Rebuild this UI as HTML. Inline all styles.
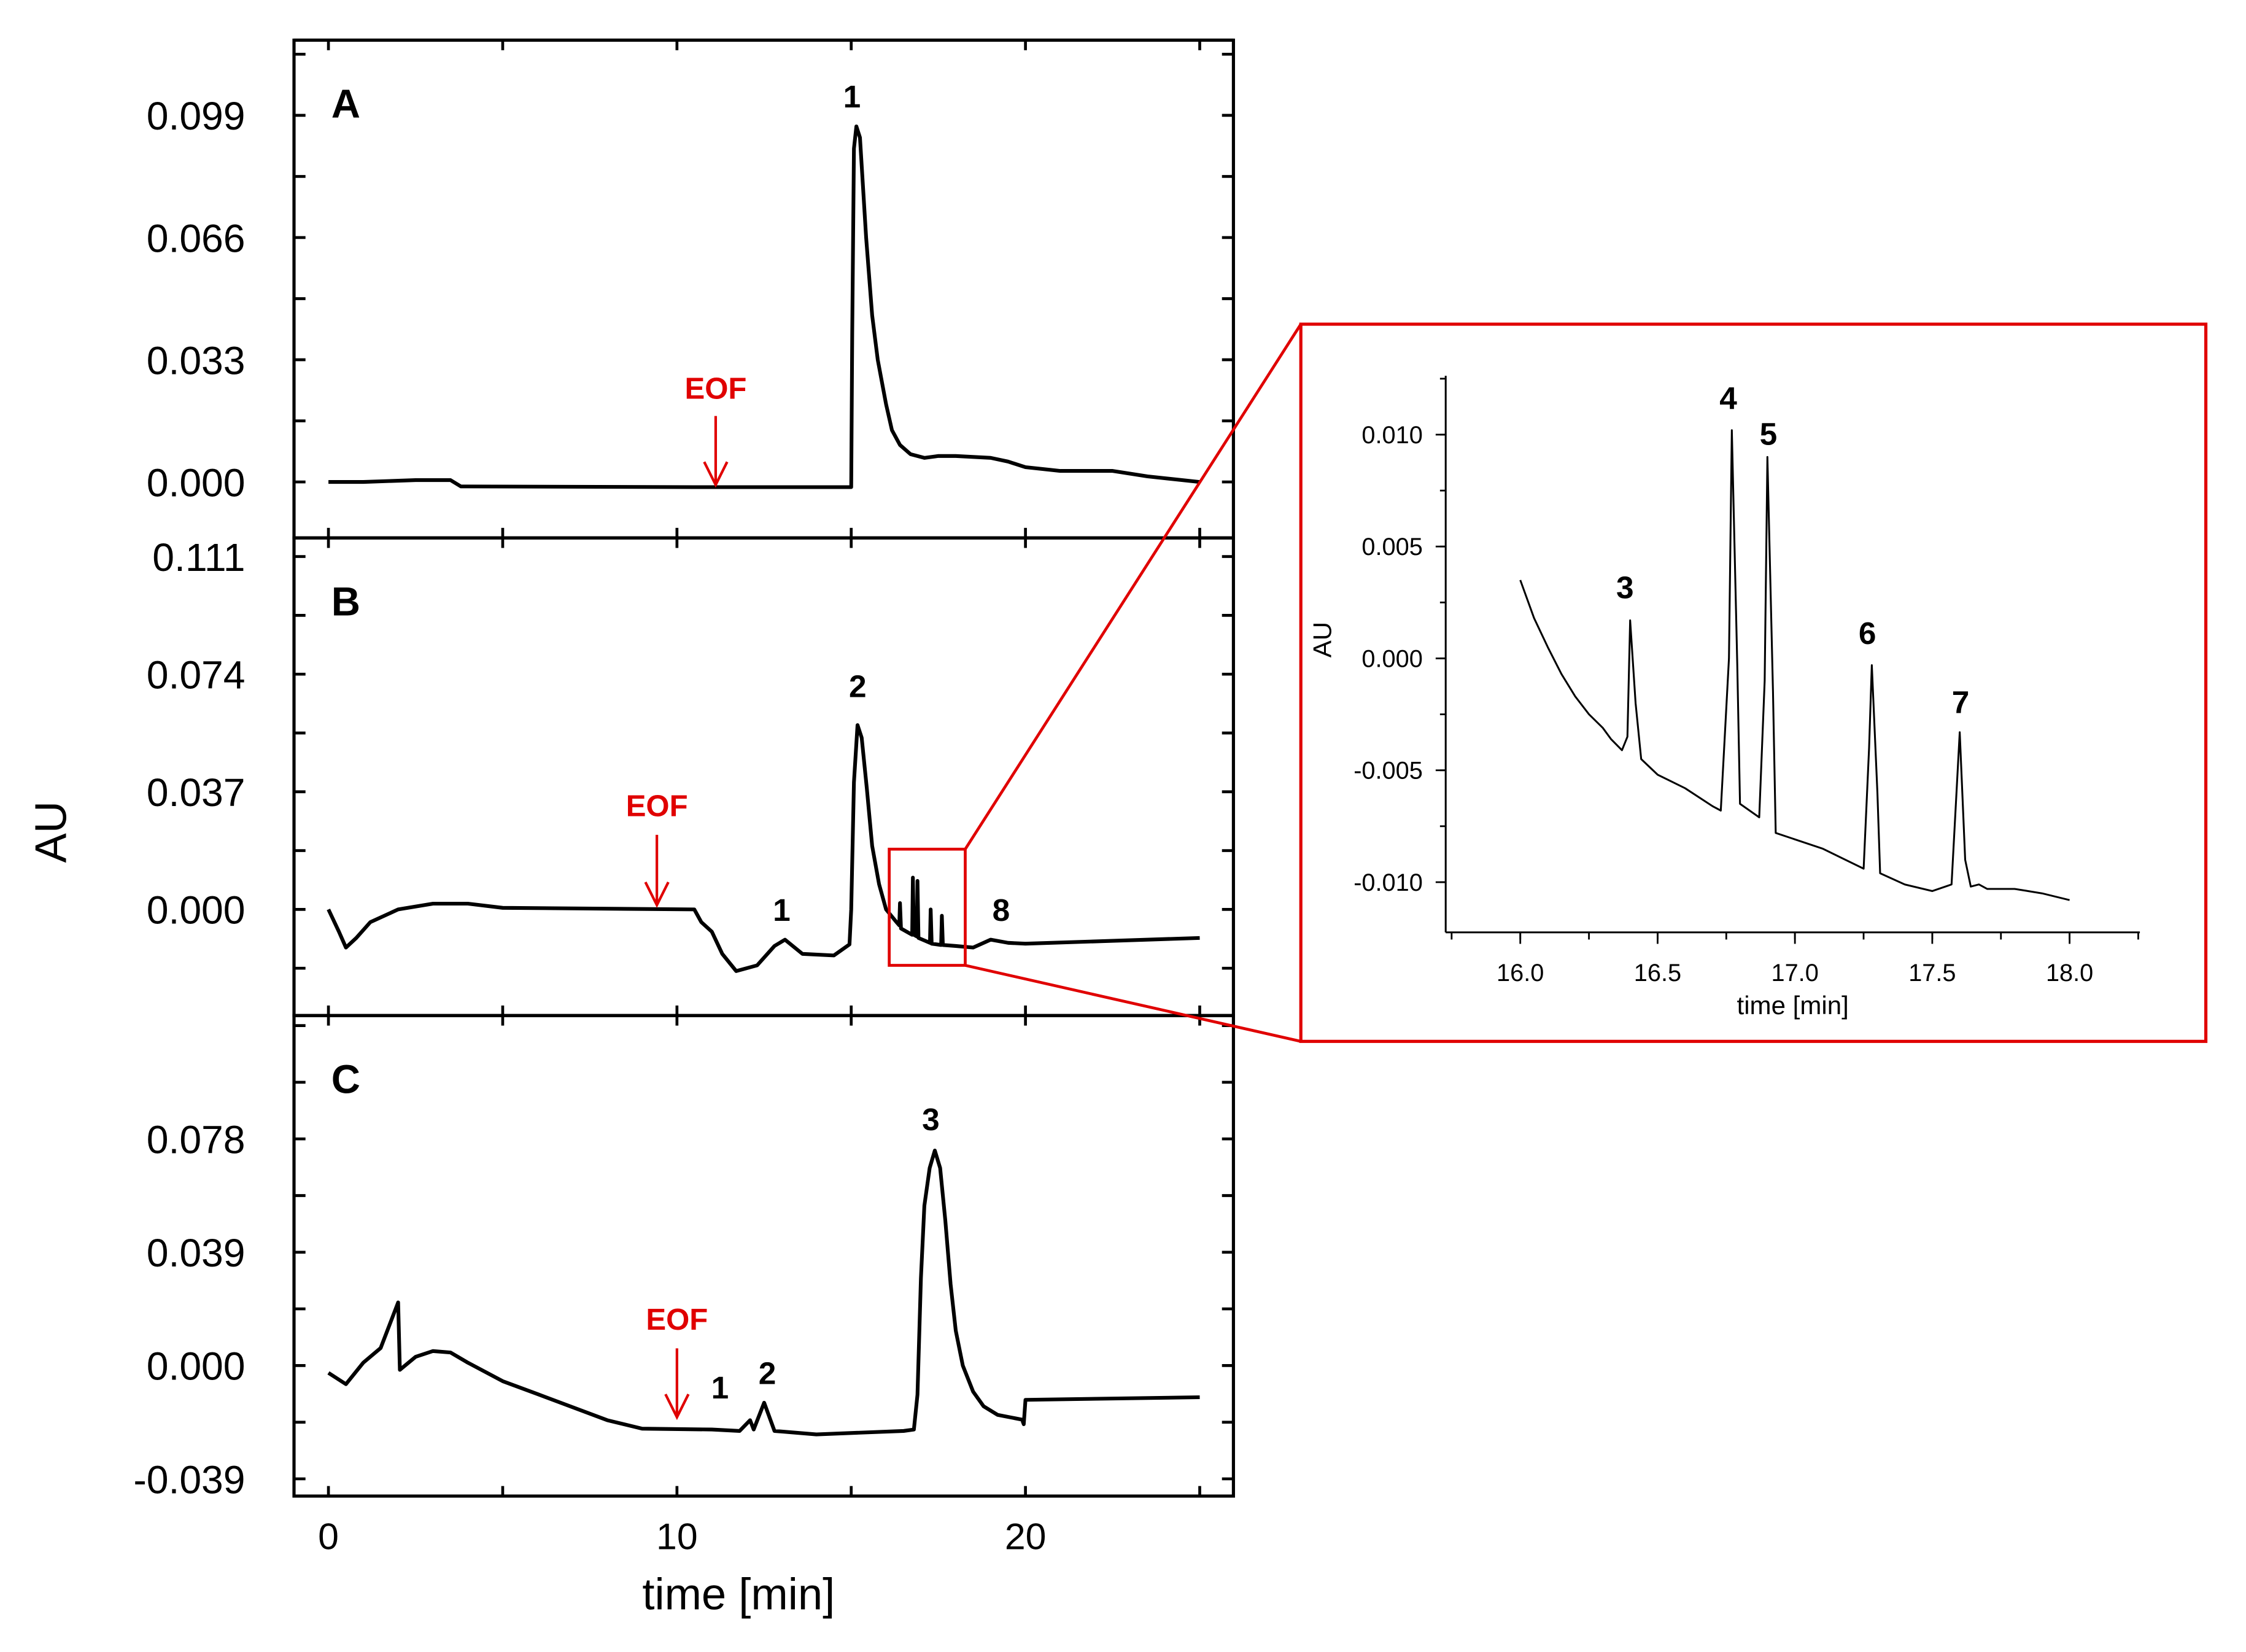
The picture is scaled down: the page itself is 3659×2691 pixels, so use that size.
<!DOCTYPE html>
<html><head><meta charset="utf-8"><style>
html,body{margin:0;padding:0;background:#fff;}
svg{display:block;font-family:"Liberation Sans",Arial,sans-serif;}
</style></head><body>
<svg id="fig" width="3659" height="2691" viewBox="0 0 1566 1151.7" xmlns="http://www.w3.org/2000/svg">
<rect x="0" y="0" width="1566" height="1152" fill="#fff"/>
<g id="main"></g>
<g id="inset"></g>
</svg>
<script>
// ---------- data ----------
const xTicksMain = [0, 10, 20];
const xMinorMain = [0, 5, 10, 15, 20, 25];
const ticksA = [0.000, 0.033, 0.066, 0.099];
const ticksB = [0.000, 0.037, 0.074, 0.111];
const ticksC = [-0.039, 0.000, 0.039, 0.078];
const labelsA = ["0.000", "0.033", "0.066", "0.099"];
const labelsB = ["0.000", "0.037", "0.074", "0.111"];
const labelsC = ["-0.039", "0.000", "0.039", "0.078"];
const timeA = [0,1,2.5,3.5,3.8,10.5,15.0,15.03,15.08,15.15,15.25,15.43,15.6,15.76,16.0,16.17,16.4,16.7,17.1,17.5,18.0,19.0,19.5,20.0,21.0,22.5,23.5,25.0];
const valA  = [0,0,0.0005,0.0005,-0.0012,-0.0014,-0.0014,0.04,0.09,0.096,0.093,0.066,0.045,0.033,0.021,0.014,0.010,0.0075,0.0065,0.007,0.007,0.0065,0.0055,0.004,0.003,0.003,0.0015,0.0];
const timeB = [0,0.3,0.5,0.8,1.2,2,3,4,5,10.5,10.7,11,11.3,11.7,12.3,12.8,13.1,13.6,14.5,14.95,15.0,15.08,15.18,15.3,15.45,15.6,15.8,16.0,16.3,16.38,16.4,16.43,16.75,16.77,16.8,16.88,16.9,16.93,17.26,17.28,17.31,17.58,17.6,17.63,18.0,18.5,19.0,19.5,20.0,25.0];
const valB  = [0,-0.007,-0.012,-0.009,-0.004,0,0.0018,0.0018,0.0005,0,-0.004,-0.007,-0.014,-0.0194,-0.0176,-0.0115,-0.0095,-0.014,-0.0145,-0.011,0.0,0.04,0.058,0.054,0.038,0.02,0.008,0.0,-0.004,-0.005,0.002,-0.006,-0.008,0.010,-0.008,-0.0085,0.009,-0.009,-0.0105,0.000,-0.0108,-0.0112,-0.002,-0.0112,-0.0115,-0.012,-0.0095,-0.0105,-0.0108,-0.009];
const timeC = [0,0.5,1,1.5,2,2.05,2.5,3,3.5,4,5,6,8,9,11,11.8,12.1,12.2,12.5,12.8,14,16.5,16.8,16.9,17.0,17.1,17.25,17.4,17.55,17.7,17.85,18.0,18.2,18.5,18.8,19.2,19.9,19.95,20.0,25.0];
const valC  = [-0.0025,-0.0064,0.001,0.006,0.0217,-0.0015,0.003,0.005,0.0045,0.001,-0.0054,-0.0098,-0.0188,-0.0217,-0.022,-0.0225,-0.0188,-0.022,-0.0128,-0.0225,-0.0237,-0.0225,-0.022,-0.01,0.03,0.055,0.068,0.074,0.068,0.05,0.028,0.012,0.0,-0.009,-0.014,-0.017,-0.0186,-0.0202,-0.0118,-0.0109];
const insetXTicks = [16.0, 16.5, 17.0, 17.5, 18.0];
const insetXLabels = ["16.0","16.5","17.0","17.5","18.0"];
const insetYTicks = [-0.010, -0.005, 0.000, 0.005, 0.010];
const insetYLabels = ["-0.010","-0.005","0.000","0.005","0.010"];
const insetTime = [16.0,16.05,16.1,16.15,16.2,16.25,16.3,16.33,16.37,16.39,16.4,16.42,16.44,16.5,16.6,16.7,16.73,16.76,16.77,16.79,16.8,16.87,16.89,16.9,16.92,16.93,17.1,17.25,17.27,17.28,17.3,17.31,17.4,17.5,17.57,17.6,17.62,17.64,17.67,17.7,17.8,17.9,18.0];
const insetVal  = [0.0035,0.0018,0.0005,-0.0007,-0.0017,-0.0025,-0.0031,-0.0036,-0.0041,-0.0035,0.0017,-0.002,-0.0045,-0.0052,-0.0058,-0.0066,-0.0068,0.0,0.0102,-0.0003,-0.0065,-0.0071,-0.001,0.009,-0.0015,-0.0078,-0.0085,-0.0094,-0.004,-0.0003,-0.006,-0.0096,-0.0101,-0.0104,-0.0101,-0.0033,-0.009,-0.0102,-0.0101,-0.0103,-0.0103,-0.0105,-0.0108];

// ---------- helpers ----------
const NS = "http://www.w3.org/2000/svg";
function mk(parent, tag, attrs, text){
  const e = document.createElementNS(NS, tag);
  for (const k in attrs) e.setAttribute(k, attrs[k]);
  if (text !== undefined) e.textContent = text;
  parent.appendChild(e);
  return e;
}
const main = document.getElementById('main');
const inset = document.getElementById('inset');
const L = 205, R = 860;
const xMain = t => 229 + t * 24.3;
const panels = [
  {id:'a', top:28, bot:375, y0:336, per:0.033, px:85.2, ticks:ticksA, labels:labelsA, t:timeA, v:valA, letter:'A'},
  {id:'b', top:375, bot:708, y0:634, per:0.037, px:82, ticks:ticksB, labels:labelsB, t:timeB, v:valB, letter:'B'},
  {id:'c', top:708, bot:1043, y0:952, per:0.039, px:79, ticks:ticksC, labels:labelsC, t:timeC, v:valC, letter:'C'}
];
panels.forEach(p => {
  const yf = v => p.y0 - v / p.per * p.px;
  const g = mk(main, 'g', {});
  
  
  const fr = mk(g, 'rect', {x:L, y:p.top, width:R-L, height:p.bot-p.top, fill:'none', stroke:'#000', 'stroke-width':2.2});
  
  
  const step = p.per / 2;
  for (let v = p.ticks[0] - step; v <= p.ticks[p.ticks.length-1] + step*2 + 1e-9; v += step) {
    const y = yf(v);
    if (y <= p.top + 3 || y >= p.bot - 3) continue;
    mk(g, 'line', {x1:L, x2:L+8, y1:y, y2:y, stroke:'#000', 'stroke-width':2});
    mk(g, 'line', {x1:R-8, x2:R, y1:y, y2:y, stroke:'#000', 'stroke-width':2});
  }
  p.ticks.forEach((v, i) => {
    const t = mk(g, 'text', {x:171, y:yf(v) + 10, 'text-anchor':'end', 'font-size':27.5}, p.labels[i]);
    
    
  });
  xMinorMain.forEach(tm => {
    const x = xMain(tm);
    mk(g, 'line', {x1:x, x2:x, y1:p.top, y2:p.top+7, stroke:'#000', 'stroke-width':2});
    mk(g, 'line', {x1:x, x2:x, y1:p.bot-7, y2:p.bot, stroke:'#000', 'stroke-width':2});
  });
  const d = p.t.map((tm, i) => (i ? 'L' : 'M') + xMain(tm).toFixed(1) + ',' + yf(p.v[i]).toFixed(1)).join(' ');
  const path = mk(g, 'path', {d:d, fill:'none', stroke:'#000', 'stroke-width':2.6, 'stroke-linejoin':'round'});
  
  
  const lt = mk(g, 'text', {x:231, y:p.top + 54, 'font-size':28, 'font-weight':'bold'}, p.letter);
  
  
});
mk(main, 'line', {x1:L, x2:R, y1:28, y2:28, stroke:'#000', 'stroke-width':2.2});
xTicksMain.forEach(tm => {
  const t = mk(main, 'text', {x:xMain(tm), y:1080, 'text-anchor':'middle', 'font-size':26}, String(tm));
  
  
});
let tt = mk(main, 'text', {x:515, y:1122, 'text-anchor':'middle', 'font-size':31}, 'time [min]');


tt = mk(main, 'text', {x:0, y:0, 'text-anchor':'middle', 'font-size':31, transform:'translate(46,580) rotate(-90)'}, 'AU');


const peakLabels = [[594,75,'1'],[545,642,'1'],[598,486,'2'],[698,642,'8'],[502,975,'1'],[535,965,'2'],[649,788,'3']];
peakLabels.forEach(p => {
  const t = mk(main, 'text', {x:p[0], y:p[1], 'text-anchor':'middle', 'font-size':22, 'font-weight':'bold'}, p[2]);
  
  
});
const eofs = [[499,278,290,338],[458,569,582,631],[472,927,940,988]];
eofs.forEach(e => {
  const g = mk(main, 'g', {});
  
  
  mk(g, 'text', {x:e[0], y:e[1], 'text-anchor':'middle', 'font-size':21, 'font-weight':'bold', fill:'#e00000'}, 'EOF');
  mk(g, 'line', {x1:e[0], x2:e[0], y1:e[2], y2:e[3], stroke:'#e00000', 'stroke-width':1.8});
  mk(g, 'path', {d:'M' + (e[0]-8) + ',' + (e[3]-16) + ' L' + e[0] + ',' + e[3] + ' L' + (e[0]+8) + ',' + (e[3]-16), fill:'none', stroke:'#e00000', 'stroke-width':1.8});
});
let zb = mk(main, 'rect', {x:620, y:592, width:53, height:81, fill:'none', stroke:'#e00000', 'stroke-width':2});


mk(main, 'line', {x1:673, y1:592, x2:907, y2:226, stroke:'#e00000', 'stroke-width':2});
mk(main, 'line', {x1:673, y1:673, x2:907, y2:726, stroke:'#e00000', 'stroke-width':2});

// ---------- inset ----------
const ix = t => 1060 + (t - 16) * 191.5;
const iy = v => 459 - v / 0.005 * 78;
let fr = mk(inset, 'rect', {x:907, y:226, width:631, height:500, fill:'#fff', stroke:'#e00000', 'stroke-width':2.2});


mk(inset, 'line', {x1:1008, x2:1008, y1:262, y2:650, stroke:'#000', 'stroke-width':1.3});
mk(inset, 'line', {x1:1008, x2:1492, y1:650, y2:650, stroke:'#000', 'stroke-width':1.3});
for (let v = -0.0125; v <= 0.0126; v += 0.0025) {
  const y = iy(v); if (y < 262 || y > 650) continue;
  mk(inset, 'line', {x1:1004, x2:1008, y1:y, y2:y, stroke:'#000', 'stroke-width':1.2});
}
insetYTicks.forEach((v, i) => {
  mk(inset, 'line', {x1:1001, x2:1008, y1:iy(v), y2:iy(v), stroke:'#000', 'stroke-width':1.2});
  const t = mk(inset, 'text', {x:992, y:iy(v) + 6, 'text-anchor':'end', 'font-size':17}, insetYLabels[i]);
  
  
});
for (let tm = 15.75; tm <= 18.26; tm += 0.25) {
  mk(inset, 'line', {x1:ix(tm), x2:ix(tm), y1:650, y2:655, stroke:'#000', 'stroke-width':1.2});
}
insetXTicks.forEach((tm, i) => {
  mk(inset, 'line', {x1:ix(tm), x2:ix(tm), y1:650, y2:658, stroke:'#000', 'stroke-width':1.2});
  const t = mk(inset, 'text', {x:ix(tm), y:684, 'text-anchor':'middle', 'font-size':17}, insetXLabels[i]);
  
  
});
tt = mk(inset, 'text', {x:1250, y:707, 'text-anchor':'middle', 'font-size':18}, 'time [min]');


tt = mk(inset, 'text', {x:0, y:0, 'text-anchor':'middle', 'font-size':18, transform:'translate(928,446) rotate(-90)'}, 'AU');


const id = insetTime.map((tm, i) => (i ? 'L' : 'M') + ix(tm).toFixed(1) + ',' + iy(insetVal[i]).toFixed(1)).join(' ');
let ip = mk(inset, 'path', {d:id, fill:'none', stroke:'#000', 'stroke-width':1.3, 'stroke-linejoin':'round'});


const insetPeaks = [[1133,417,'3'],[1205,285,'4'],[1233,310,'5'],[1302,449,'6'],[1367,497,'7']];
insetPeaks.forEach(p => {
  const t = mk(inset, 'text', {x:p[0], y:p[1], 'text-anchor':'middle', 'font-size':22, 'font-weight':'bold'}, p[2]);
  
  
});
</script>
</body></html>
